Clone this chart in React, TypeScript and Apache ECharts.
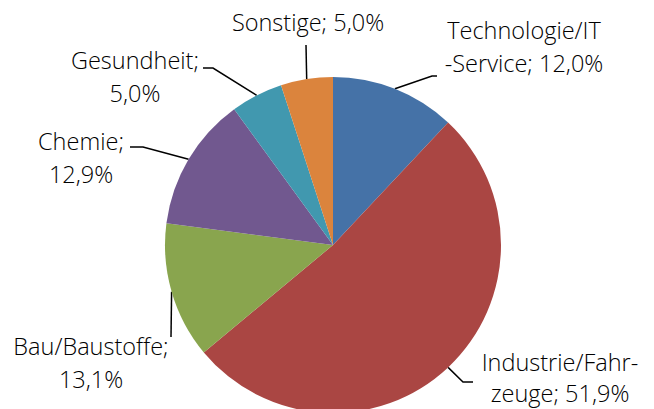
import React, { useEffect, useRef } from "react";
import * as echarts from "echarts";

const categories = [
  "Technologie/IT-Service",
  "Industrie/Fahrzeuge",
  "Bau/Baustoffe",
  "Chemie",
  "Gesundheit",
  "Sonstige",
];
const labelNames = [
  "Technologie/IT\n-Service",
  "Industrie/Fahr-\nzeuge",
  "Bau/Baustoffe",
  "Chemie",
  "Gesundheit",
  "Sonstige",
];
const labelSeparators = ["; ", "; ", ";\n", ";\n", ";\n", "; "];
const shares = [12.0, 51.9, 13.1, 12.9, 5.0, 5.0];
const colors = ["#4572A7", "#AA4643", "#89A54E", "#71588F", "#4198AF", "#DB843D"];

// label placement (block centre) and leader-line elbow/end points
const labelPos = [
  [524, 46],
  [560, 377],
  [91, 362],
  [81, 157],
  [135, 76],
  [308, 22],
];
const labelLineHeights = [33, 31, 33, 33, 33, 33];
const leaderElbow = [
  [432, 76],
  [463, 382],
  [171, 337],
  [143, 147],
  [213, 68],
  [306, 45],
];
const leaderEnd = [
  [437, 76],
  [473, 382],
  [171, 337],
  [130, 147],
  [203, 68],
  [306, 45],
];

export default function App() {
  const ref = useRef<HTMLDivElement>(null);
  useEffect(() => {
    document.body.style.margin = "0";
    const chart = echarts.init(ref.current!, null, { renderer: "svg" });
    chart.setOption({
      animation: false,
      backgroundColor: "#ffffff",
      series: [
        {
          type: "pie",
          center: [333, 245],
          radius: 168,
          startAngle: 90,
          clockwise: true,
          avoidLabelOverlap: false,
          itemStyle: { borderWidth: 0 },
          label: {
            show: true,
            fontFamily: "Open Sans",
            fontWeight: 300,
            fontSize: 23.5,
            lineHeight: 33,
            color: "#000000",
            align: "center",
            formatter: (p: any) =>
              labelNames[p.dataIndex] +
              labelSeparators[p.dataIndex] +
              p.value.toFixed(1).replace(".", ",") +
              "%",
          },
          labelLine: {
            show: true,
            length: 10,
            length2: 10,
            lineStyle: { color: "#000000", width: 1.5 },
          },
          labelLayout: (params: any) => {
            const i = params.dataIndex;
            const start = params.labelLinePoints
              ? params.labelLinePoints[0]
              : leaderElbow[i];
            return {
              x: labelPos[i][0],
              y: labelPos[i][1],
              align: "center",
              verticalAlign: "middle",
              labelLinePoints: [start, leaderElbow[i], leaderEnd[i]],
            };
          },
          data: categories.map((c, i) => ({
            name: c,
            value: shares[i],
            itemStyle: { color: colors[i] },
            label: { lineHeight: labelLineHeights[i] },
          })),
        },
      ],
    });
    return () => chart.dispose();
  }, []);
  return <div ref={ref} style={{ width: 654, height: 409 }} />;
}
